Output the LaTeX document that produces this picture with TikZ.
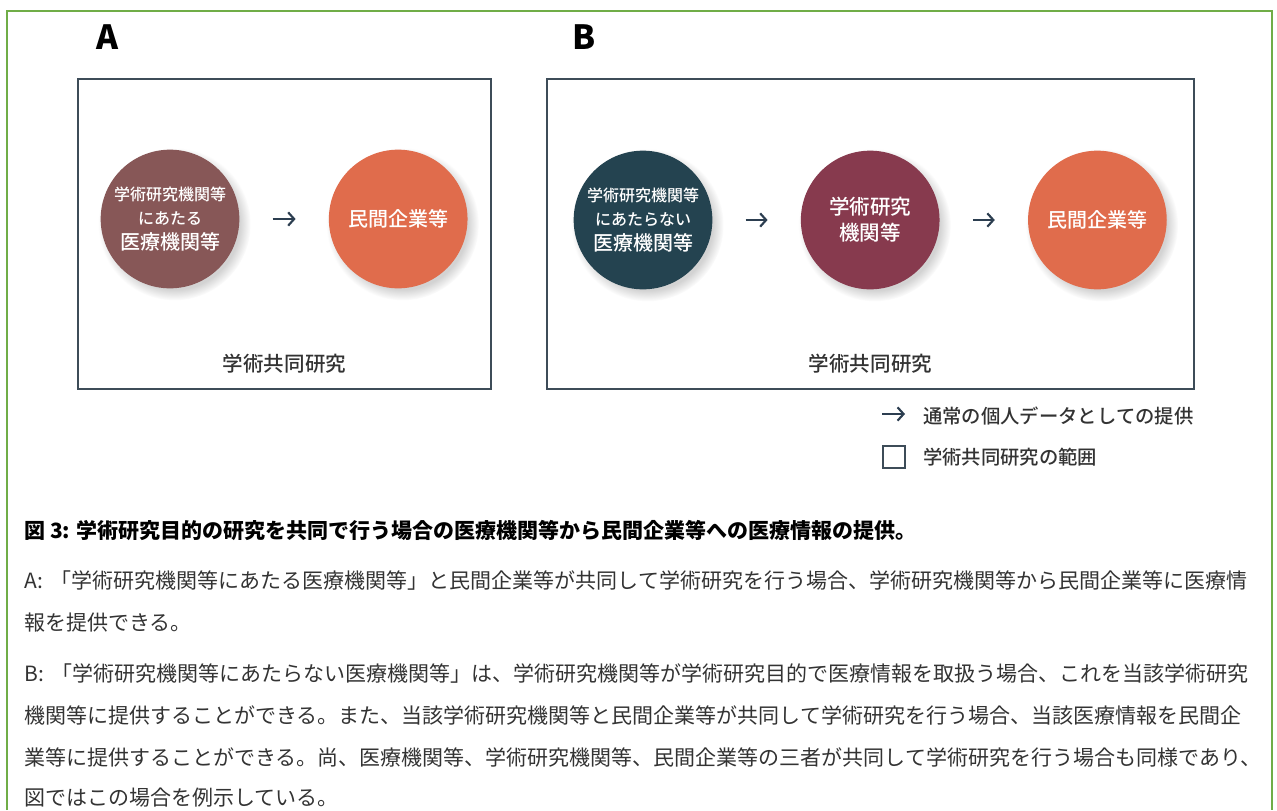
\documentclass[tikz,border=0pt]{standalone}
\usepackage{fontspec}
\setmainfont{Noto Sans CJK JP}
\newfontfamily\medium{Noto Sans CJK JP Medium}
\usetikzlibrary{arrows.meta,shadows,positioning}

\XeTeXlinebreaklocale "ja"
\XeTeXlinebreakskip=0pt plus 3pt

\definecolor{mauve}{HTML}{875757}
\definecolor{coral}{HTML}{E06C4C}
\definecolor{teal}{HTML}{244350}
\definecolor{wine}{HTML}{873A4E}
\definecolor{slate}{HTML}{3D4C58}
\definecolor{navy}{HTML}{2C3E50}
\definecolor{framegreen}{HTML}{70AD47}
\definecolor{textgray}{HTML}{333333}

\newcommand\fullline[1]{\hbox to 928.5pt{#1}}
\newcommand\smallfont{\medium\fontsize{12}{17.25}\selectfont}
\newcommand\bigfont{\medium\fontsize{15}{18}\selectfont}

\begin{document}
\begin{tikzpicture}[x=0.75pt,y=-0.75pt,
	org/.style={circle,minimum size=104pt,inner sep=0pt,text=white,font=\bigfont,align=center,
		circular drop shadow={shadow xshift=3pt,shadow yshift=-3.5pt,opacity=0.35}},
	scopebox/.style={draw=slate,line width=1.5pt,inner sep=0pt,minimum height=232.5pt},
	flow/.style={draw=navy,line width=1.6pt,-{Straight Barb[length=4.5pt,width=10pt]},
		shorten <=24.75pt,shorten >=24.75pt},
	label/.style={text=textgray,inner sep=0pt,font=\medium\fontsize{15.4}{18}\selectfont},
	bodyline/.style={anchor=base west,inner sep=0pt,text=textgray,font=\fontsize{15.75}{20}\selectfont}]
\useasboundingbox (0,0) rectangle (1277,810);

% frame
\draw[framegreen,line width=2.2pt] (7,810) -- (7,11) -- (1272,11) -- (1272,810);

% panel A
\node[font=\fontsize{25}{25}\selectfont\bfseries] (labA) at (107,37) {A};
\node[scopebox,minimum width=309.75pt] (boxA) at (284.5,234) {};
\node[org,fill=mauve] (a1) at (170,219) {\smallfont 学術研究機関等\\\smallfont にあたる\\[1pt]\bigfont 医療機関等};
\node[org,fill=coral,right=66.75pt of a1] (a2) {民間企業等};
\draw[flow] (a1) -- (a2);
\node[label] (jointA) at ([yshift=19.5pt]boxA.south) {学術共同研究};

% panel B
\node[font=\fontsize{25}{25}\selectfont\bfseries] (labB) at (584,37) {B};
\node[scopebox,minimum width=485.25pt] (boxB) at (870.5,234) {};
\node[org,fill=teal] (b1) at (643,220) {\smallfont 学術研究機関等\\\smallfont にあたらない\\[1pt]\bigfont 医療機関等};
\node[org,fill=wine,right=66pt of b1,font=\medium\fontsize{15.4}{19.5}\selectfont] (b2) {学術研究\\機関等};
\node[org,fill=coral,right=66pt of b2] (b3) {民間企業等};
\draw[flow] (b1) -- (b2);
\draw[flow] (b2) -- (b3);
\node[label] (jointB) at ([yshift=19.5pt]boxB.south) {学術共同研究};

% legend
\coordinate (legS) at (882,414);
\coordinate (legE) at (905,414);
\draw[flow,shorten <=0pt,shorten >=0pt] (legS) -- (legE);
\node[label,anchor=west,font=\medium\fontsize{14.5}{17}\selectfont] (legflow) at (923,416) {通常の個人データとしての提供};
\node[draw=slate,line width=1.5pt,minimum size=16.5pt,inner sep=0pt] (legsq) at (894,457) {};
\node[label,anchor=west,font=\medium\fontsize{14.5}{17}\selectfont] (legscope) at (923,457) {学術共同研究の範囲};

% caption
\node[bodyline,text=black,font=\bfseries\fontsize{15.75}{20}\selectfont] (title) at (24,538) {図 3: 学術研究目的の研究を共同で行う場合の医療機関等から民間企業等への医療情報の提供。};
\foreach \n/\yy/\t in {
	1/588/{\fullline{A:\kern6pt「学術研究機関等にあたる医療機関等」と民間企業等が共同して学術研究を行う場合、学術研究機関等から民間企業等に医療情}},
	2/630/{報を提供できる。},
	3/681/{\fullline{B:\kern6pt「学術研究機関等にあたらない医療機関等」は、学術研究機関等が学術研究目的で医療情報を取扱う場合、これを当該学術研究}},
	4/723/{\fullline{機関等に提供することができる。また、当該学術研究機関等と民間企業等が共同して学術研究を行う場合、当該医療情報を民間企}},
	5/765/{\fullline{業等に提供することができる。尚、医療機関等、学術研究機関等、民間企業等の三者が共同して学術研究を行う場合も同様であり、}},
	6/805/{図ではこの場合を例示している。}}{
	\node[bodyline] (body\n) at (24,\yy) {\t};
}
\end{tikzpicture}
\end{document}
